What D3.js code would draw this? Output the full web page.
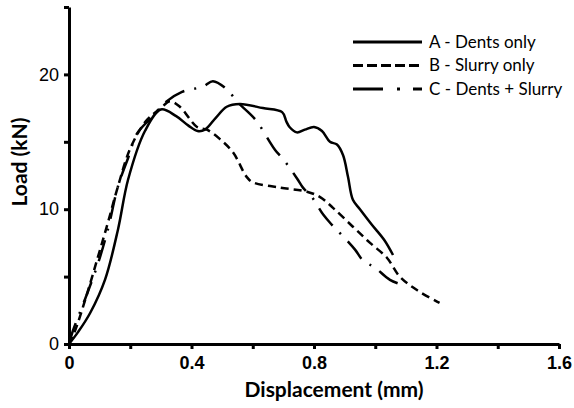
<!DOCTYPE html>
<html>
<head>
<meta charset="utf-8">
<script src="https://cdn.jsdelivr.net/npm/d3@7"></script>
<style>
  body { margin: 0; background: #fff; }
  svg { font-family: Lato, "Open Sans", sans-serif; }
  .axis path, .axis line { stroke: #000; stroke-width: 3; }
  .axis text { fill: #000; font-size: 18px; }
  .xAxis text { font-weight: bold; }
</style>
</head>
<body>
<div id="viz"></div>
<script>
// series: displacement (mm) / load (kN)
var dispA = [0, 0.03, 0.069, 0.118, 0.16, 0.193, 0.248, 0.30, 0.35, 0.39, 0.42, 0.444, 0.48, 0.515, 0.558, 0.633, 0.696, 0.71, 0.72, 0.744, 0.77, 0.80, 0.826, 0.852, 0.875, 0.895, 0.911, 0.927, 0.95, 0.989, 1.03, 1.058];
var loadA = [0, 0.9, 2.3, 4.8, 8.5, 12.2, 15.8, 17.4, 16.9, 16.2, 15.8, 15.9, 16.8, 17.6, 17.8, 17.5, 17.2, 16.5, 16.1, 15.7, 15.9, 16.1, 15.8, 15.0, 14.8, 14.0, 12.4, 10.7, 10.0, 8.85, 7.7, 6.6];

var dispB = [0, 0.02, 0.06, 0.095, 0.127, 0.16, 0.2, 0.25, 0.30, 0.33, 0.362, 0.418, 0.45, 0.493, 0.536, 0.58, 0.60, 0.69, 0.777, 0.82, 0.862, 0.927, 0.983, 1.038, 1.08, 1.136, 1.21];
var loadB = [0, 1.0, 3.8, 6.5, 9.0, 11.7, 14.5, 16.5, 17.5, 18.0, 17.6, 16.1, 15.9, 15.2, 14.2, 12.4, 12.0, 11.6, 11.3, 10.9, 10.1, 8.7, 7.5, 6.4, 5.0, 4.0, 3.05];

var dispC = [0, 0.013, 0.052, 0.095, 0.127, 0.16, 0.193, 0.222, 0.274, 0.313, 0.369, 0.438, 0.47, 0.515, 0.552, 0.585, 0.614, 0.65, 0.673, 0.70, 0.744, 0.764, 0.793, 0.83, 0.858, 0.89, 0.934, 0.96, 1.0, 1.048, 1.10];
var loadC = [0, 1.0, 3.3, 6.0, 8.5, 11.7, 13.8, 15.6, 16.9, 17.9, 18.7, 19.1, 19.5, 18.9, 17.9, 17.2, 16.5, 15.2, 14.4, 13.7, 12.3, 11.6, 10.9, 9.6, 8.85, 8.1, 7.0, 6.2, 5.65, 4.76, 4.3];

var seriesNames = ["A - Dents only", "B - Slurry only", "C - Dents + Slurry"];
var xTicks = [0, 0.2, 0.4, 0.6, 0.8, 1.0, 1.2, 1.4, 1.6];
var yTicks = [0, 5, 10, 15, 20, 25];
var xLabelled = [0, 0.4, 0.8, 1.2, 1.6];
var yLabelled = [0, 10, 20];

var margin = { top: 7, right: 15, bottom: 64, left: 69 },
    width = 574 - margin.left - margin.right,
    height = 408 - margin.top - margin.bottom;

var svg = d3.select('#viz').append('svg')
    .attr('width', 574)
    .attr('height', 408);

var g = svg.append('g')
    .attr('transform', 'translate(' + margin.left + ',' + margin.top + ')');

var x = d3.scaleLinear().domain([0, 1.6]).range([0, 490]);
var y = d3.scaleLinear().domain([0, 25]).range([height, 0]);

var fmt = function(d) {
    return xLabelled.some(v => Math.abs(v - d) < 1e-6) ? (d === 0 ? "0" : d3.format(".1f")(d)) : "";
};

g.append('g')
    .attr('class', 'axis xAxis')
    .attr('transform', 'translate(0,' + height + ')')
    .call(d3.axisBottom(x).tickValues(xTicks).tickSize(5).tickSizeOuter(0).tickPadding(7).tickFormat(fmt));

g.append('g')
    .attr('class', 'axis yAxis')
    .call(d3.axisLeft(y).tickValues(yTicks).tickSize(5).tickSizeOuter(0).tickPadding(5)
        .tickFormat(d => yLabelled.indexOf(d) >= 0 ? d : ""));

var records = [
    { name: seriesNames[0], d: dispA, l: loadA, dash: null, legendDash: null },
    { name: seriesNames[1], d: dispB, l: loadB, dash: "8,5", legendDash: "10,4" },
    { name: seriesNames[2], d: dispC, l: loadC, dash: "22,10,2,10", legendDash: "30,14,3,13" }
];

var line = d3.line()
    .x(p => x(p[0]))
    .y(p => y(p[1]))
    .curve(d3.curveCatmullRom.alpha(0.5));

records.forEach(function(s) {
    g.append('path')
        .datum(d3.zip(s.d, s.l))
        .attr('fill', 'none')
        .attr('stroke', '#000')
        .attr('stroke-width', 2.5)
        .attr('stroke-dasharray', s.dash)
        .attr('d', line);
});

// legend
var legend = svg.append('g').attr('transform', 'translate(353,42)');
records.forEach(function(s, i) {
    var row = legend.append('g').attr('transform', 'translate(0,' + (i * 23.5) + ')');
    row.append('line')
        .attr('x1', 0).attr('x2', 69)
        .attr('stroke', '#000')
        .attr('stroke-width', 3)
        .attr('stroke-dasharray', s.legendDash);
    row.append('text')
        .attr('x', 76)
        .attr('dy', '0.35em')
        .style('font-size', '17px')
        .text(s.name);
});

// axis titles
svg.append('text')
    .attr('x', 334)
    .attr('y', 397)
    .attr('text-anchor', 'middle')
    .style('font-size', '21px')
    .style('font-weight', 'bold')
    .text('Displacement (mm)');

svg.append('text')
    .attr('transform', 'translate(27,162) rotate(-90)')
    .attr('text-anchor', 'middle')
    .style('font-size', '21px')
    .style('font-weight', 'bold')
    .text('Load (kN)');
</script>
</body>
</html>
